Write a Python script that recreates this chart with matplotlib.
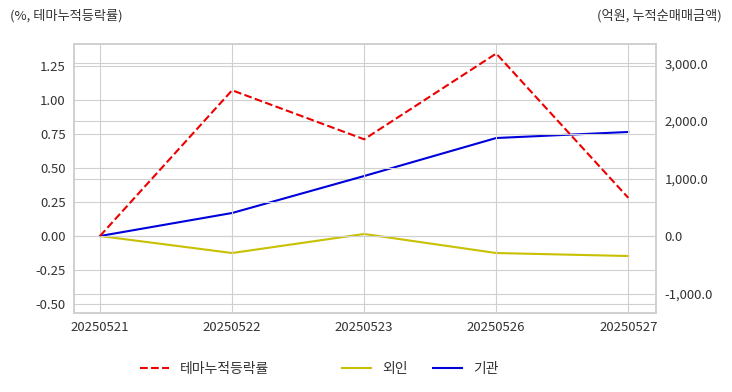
import matplotlib
matplotlib.use("Agg")
import matplotlib.pyplot as plt
from matplotlib.ticker import FuncFormatter

plt.rcParams['font.family'] = ['Noto Sans CJK KR', 'DejaVu Sans']

dates = ["20250521", "20250522", "20250523", "20250526", "20250527"]
theme_rate = [0.0, 1.07, 0.71, 1.34, 0.28]
foreign = [0.0, -296.0, 35.0, -296.0, -348.0]
institution = [0.0, 400.0, 1043.0, 1704.0, 1809.0]

grid_c = "#d0d0d0"
text_c = "#333333"

fig = plt.figure(figsize=(7.32, 3.92), dpi=100)
ax = fig.add_axes([74 / 732, 1 - 313 / 392, 582 / 732, 269 / 392])
ax2 = ax.twinx()

x = list(range(len(dates)))
l1, = ax.plot(x, theme_rate, color="#ee0000", linestyle="--", linewidth=1.5, label="테마누적등락률")
l2, = ax2.plot(x, foreign, color="#c8c000", linewidth=1.5, label="외인")
l3, = ax2.plot(x, institution, color="#0000dd", linewidth=1.5, label="기관")

ax.set_xlim(-0.197, 4.21)
ax.set_ylim(-0.566, 1.41)
ax2.set_ylim(-1339, 3339)

ax.set_xticks(x)
ax.set_xticklabels(dates)
ax.set_yticks([-0.5, -0.25, 0, 0.25, 0.5, 0.75, 1.0, 1.25])
ax.yaxis.set_major_formatter(FuncFormatter(lambda v, p: f"{v:.2f}"))
ax2.set_yticks([-1000, 0, 1000, 2000, 3000])
ax2.yaxis.set_major_formatter(FuncFormatter(lambda v, p: f"{v:,.1f}"))

for a in (ax, ax2):
    a.grid(True, color=grid_c, linewidth=0.8)
    a.tick_params(length=0, labelsize=9.5, colors=text_c, pad=6)
    for s in a.spines.values():
        s.set_color(grid_c)
        s.set_linewidth(1.2)
ax2.xaxis.grid(False)
ax.set_axisbelow(True)
ax2.set_axisbelow(True)
ax.set_zorder(ax2.get_zorder() + 1)
ax.patch.set_visible(False)

fig.text(10 / 732, 1 - 16 / 392, "(%, 테마누적등락률)", fontsize=9.5, color=text_c, va="center", ha="left")
fig.text(722 / 732, 1 - 16 / 392, "(억원, 누적순매매금액)", fontsize=9.5, color=text_c, va="center", ha="right")

leg_kw = dict(frameon=False, fontsize=10, handlelength=2.1, handletextpad=0.8,
              labelcolor=text_c, borderpad=0, borderaxespad=0)
fig.legend(handles=[l1], loc="center left", bbox_to_anchor=(140 / 732, 1 - 369 / 392), **leg_kw)
fig.legend(handles=[l2, l3], loc="center left", bbox_to_anchor=(342 / 732, 1 - 369 / 392),
           ncol=2, columnspacing=1.8, **leg_kw)

fig.savefig("out.png", dpi=100)
